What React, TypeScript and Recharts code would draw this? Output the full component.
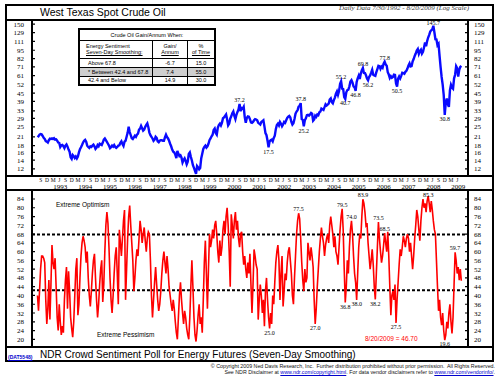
import { LineChart, Line, XAxis, YAxis, ReferenceLine, ReferenceDot } from 'recharts';

// semi-monthly readings, first one at 7/30/1992
const START = 1992.58;
const PER_YEAR = 24;

// West Texas spot crude, $ (Aug 1992 .. Aug 2009, two readings a month)
const oilPrices = [
  21.5, 21.2, 21.8, 22.0, 21.9, 21.3, 20.6, 20.2, 19.5, 19.3,
  19.0, 19.8, 20.3, 20.2, 20.4, 20.2, 20.5, 20.0, 20.1, 19.6, 19.0, 18.9, 17.6, 18.1, 18.2, 17.8, 17.2, 18.0, 18.4, 17.7, 16.8, 16.2, 14.7, 14.3,
  15.3, 15.0, 14.5, 14.9, 14.4, 14.9, 16.0, 16.9, 17.5, 18.2, 19.0, 19.6, 19.9, 19.3, 18.0, 17.6, 17.3, 17.8, 17.6, 18.0, 18.3, 17.8, 17.0, 17.4,
  18.2, 17.8, 18.6, 18.4, 18.2, 19.0, 20.0, 20.4, 19.8, 19.2, 18.6, 18.0, 17.2, 17.5, 18.0, 17.7, 18.2, 17.6, 17.3, 17.6, 18.0, 18.1, 18.9, 19.4,
  18.5, 17.9, 19.3, 19.6, 21.0, 22.5, 25.0, 22.8, 21.6, 20.5, 20.2, 20.8, 21.4, 21.0, 21.8, 22.2, 23.8, 24.2, 25.4, 24.4, 23.4, 23.8, 25.0, 25.8,
  26.5, 24.8, 22.6, 21.6, 21.0, 20.4, 19.6, 20.0, 21.0, 20.6, 19.4, 19.1, 19.6, 19.8, 19.8, 19.6, 19.6, 20.8, 21.8, 20.9, 20.4, 19.6, 18.6, 17.8,
  16.8, 16.2, 16.0, 15.4, 14.5, 16.4, 15.6, 15.0, 15.2, 14.6, 13.4, 14.0, 14.4, 13.8, 13.0, 13.6, 15.6, 16.0, 14.8, 13.9, 12.8, 12.2, 11.6, 11.0,
  12.6, 12.3, 11.9, 12.2, 14.4, 15.6, 17.0, 17.6, 18.0, 17.4, 17.8, 18.6, 19.8, 20.4, 21.2, 21.8, 23.6, 24.2, 22.4, 21.8, 24.6, 25.8, 26.4, 25.6,
  26.8, 29.0, 29.4, 30.2, 31.0, 28.4, 25.6, 26.4, 28.8, 30.0, 31.6, 32.6, 30.2, 28.6, 30.8, 32.4, 33.8, 37.2, 32.8, 34.6, 34.2, 35.4, 29.6, 26.8,
  29.2, 30.0, 29.8, 28.6, 27.0, 26.8, 27.2, 28.0, 28.6, 28.4, 28.0, 26.8, 26.4, 26.0, 27.2, 27.6, 28.0, 25.2, 22.4, 21.6, 19.6, 17.5, 19.4, 19.8,
  20.0, 19.4, 20.6, 21.4, 24.0, 25.8, 26.4, 25.6, 27.2, 26.4, 25.2, 26.0, 27.2, 26.8, 28.0, 29.2, 29.8, 30.2, 29.4, 27.2, 26.0, 26.6, 28.6, 31.4,
  32.6, 33.4, 35.6, 36.2, 37.8, 28.6, 28.2, 25.2, 28.0, 29.0, 30.6, 30.8, 30.4, 31.0, 31.8, 31.4, 27.8, 28.4, 30.4, 29.8, 31.0, 30.6, 32.2, 32.6,
  34.4, 34.0, 33.6, 35.2, 37.0, 36.2, 36.8, 37.4, 40.2, 41.0, 38.4, 37.6, 39.8, 41.6, 44.6, 46.4, 43.6, 46.6, 52.8, 55.2, 48.6, 48.2, 42.0, 40.7,
  45.6, 47.4, 47.8, 50.6, 55.0, 56.4, 54.0, 50.6, 49.6, 46.8, 54.6, 58.2, 61.0, 57.6, 63.2, 67.2, 69.8, 64.0, 63.8, 61.4, 58.0, 56.2, 59.6, 61.2,
  64.2, 67.6, 62.0, 61.2, 60.8, 64.8, 68.4, 72.4, 72.0, 68.6, 71.4, 70.0, 75.2, 77.8, 74.2, 72.6, 64.8, 62.2, 58.6, 60.4, 58.8, 59.6, 62.0, 61.8,
  53.2, 50.5, 58.0, 60.2, 58.2, 60.8, 64.2, 63.8, 63.0, 65.2, 66.4, 69.0, 73.0, 75.6, 71.6, 72.0, 78.2, 81.4, 86.0, 89.6, 94.6, 97.2, 89.4, 93.8,
  96.0, 89.6, 92.4, 99.8, 108.6, 102.0, 111.4, 118.6, 124.2, 131.6, 134.6, 137.0, 145.7, 130.0, 115.2, 114.6, 103.8, 106.4, 86.2, 70.8, 59.6, 52.2, 43.6, 30.8,
  38.2, 41.0, 37.0, 35.4, 47.2, 52.0, 49.6, 48.6, 58.2, 62.0, 72.0, 69.6, 60.0, 67.4, 71.0, 72.4,
];

// NDR crowd sentiment poll, energy futures (7-day smoothing), same dates
const sentiment = [
  40, 33, 42, 52, 58, 58, 57, 55, 38, 27, 34, 47, 29, 45, 63, 55, 52, 57, 44, 30, 24, 36, 28, 22,
  26, 23, 38, 47, 53, 34, 51, 42, 30, 25, 21, 28, 40, 52, 57, 31, 36, 48, 58, 64, 67, 65, 62, 55,
  60, 48, 40, 35, 42, 50, 56, 59, 48, 38, 30, 36, 45, 52, 56, 37, 45, 60, 72, 78, 73, 62, 48, 38,
  32, 40, 50, 58, 62, 50, 36, 70, 64, 58, 66, 74, 79, 38, 52, 66, 76, 81, 72, 64, 56, 42, 48, 56,
  61, 58, 66, 74, 70, 64, 68, 71, 65, 60, 66, 69, 68, 56, 40, 30, 38, 46, 53, 45, 38, 33, 36, 42,
  50, 56, 60, 55, 50, 58, 52, 44, 40, 36, 33, 38, 34, 28, 23, 20, 30, 40, 46, 38, 32, 27, 33, 30,
  25, 22, 20, 30, 44, 56, 44, 30, 22, 19, 24, 31, 36, 27, 30, 23, 38, 55, 65, 50, 34, 52, 68, 62,
  65, 70, 66, 72, 74, 68, 60, 55, 65, 58, 62, 70, 74, 68, 76, 80, 72, 60, 44, 77, 72, 66, 74, 78,
  70, 74, 66, 62, 68, 69, 60, 54, 58, 52, 48, 55, 50, 59, 45, 32, 45, 61, 58, 54, 52, 29, 38, 45,
  40, 32, 38, 26, 42, 48, 38, 30, 25, 32, 27, 40, 36, 46, 55, 60, 63, 56, 38, 50, 58, 35, 42, 50,
  47, 55, 60, 62, 56, 50, 40, 36, 48, 58, 68, 74, 77.5, 75, 66, 55, 47, 42, 52, 46, 48, 64, 60, 56,
  62, 58, 53, 38, 27, 34, 44, 52, 60, 66, 71, 67, 64, 58, 63, 66, 68, 64, 72, 76, 72, 68, 62, 67,
  60, 58, 54, 62, 70, 76, 79.5, 70, 52, 36.8, 44, 56, 50, 62, 70, 74, 68, 58, 50, 46, 38, 50, 62, 68,
  66, 76, 83.9, 82, 78, 72, 73, 64, 58, 52, 56, 61, 54, 44, 38.2, 50, 62, 73.5, 66, 60, 55, 58, 63, 68.5,
  64, 60, 69, 58, 44, 31, 40, 42, 38, 45, 27.5, 38, 46, 54, 61, 58, 62, 67, 65, 62, 66, 68, 66, 60,
  64, 58, 52, 58, 66, 72, 79, 76, 70, 65, 74, 80, 84, 80, 82, 78, 83, 85.3, 82, 78, 83, 79, 74, 70,
  68, 56, 44, 33, 38, 30, 26.5, 32, 24, 19.6, 22, 28, 25, 32, 36, 28, 22.7, 30, 45, 59.7, 56, 50, 53, 47, 52, 46.7,
];

const oilTicks = [12, 14, 16, 18, 21, 25, 29, 33, 39, 45, 52, 61, 71, 82, 95, 111, 129, 150];
const sentimentTicks = [20, 24, 28, 32, 36, 40, 44, 48, 52, 56, 60, 64, 68, 72, 76, 80, 84];
const yearLabels = [1993, 1994, 1995, 1996, 1997, 1998, 1999, 2000, 2001, 2002, 2003, 2004, 2005, 2006, 2007, 2008, 2009];
const quarterMonths = [3, 6, 9, 12];
const quarterLetters = ['M', 'J', 'S', 'D'];

const upperBand = 67.8;
const lowerBand = 42.4;

// indexes of labelled highs and lows
const oilHighs = [195, 254, 293, 314, 335, 382];
const oilLows = [223, 257, 297, 307, 319, 347, 393];
const sentHighs = [252, 294, 303, 314, 329, 335, 377, 403];
const sentLows = [224, 268, 297, 308, 326, 346, 393];

const tableRows = [
  { label: 'Above 67.8', gain: '-6.7', time: '15.0', shade: false },
  { label: '* Between 42.4 and 67.8', gain: '7.4', time: '55.0', shade: true },
  { label: '42.4 and Below', gain: '14.9', time: '30.0', shade: false },
];

const tOf = (i: number) => START + i / PER_YEAR;
const oilData = oilPrices.map((v, i) => ({ t: tOf(i), v }));
const sentData = sentiment.map((v, i) => ({ t: tOf(i), v }));

const xDomain = [1992.36, 2009.89];
const END = tOf(oilPrices.length - 1);

const timeTicks: { t: number; label: string; year: boolean }[] = [];
for (let y = 1992; y <= 2009; y++) {
  quarterMonths.forEach((m, k) => {
    const t = y + (m - 0.5) / 12;
    if (t >= START && t <= END) timeTicks.push({ t, label: quarterLetters[k], year: false });
  });
}
yearLabels.forEach((y) => timeTicks.push({ t: y + 0.5, label: String(y), year: true }));

const serif = '"Liberation Serif", "Times New Roman", serif';
const sans = '"Liberation Sans", Arial, sans-serif';

function LeftTick({ x, y, payload }: any) {
  return (
    <g>
      <line x1={x + 1} x2={x + 3} y1={y} y2={y} stroke="#000" strokeWidth={1.2} />
      <text x={x - 8} y={y + 2.5} textAnchor="end" fontSize={7} fontFamily={serif} fill="#000">
        {payload.value}
      </text>
    </g>
  );
}

function RightTick({ x, y, payload }: any) {
  return (
    <g>
      <line x1={x - 3} x2={x - 1} y1={y} y2={y} stroke="#000" strokeWidth={1.2} />
      <text x={x + 6} y={y + 2.5} textAnchor="start" fontSize={7} fontFamily={serif} fill="#000">
        {payload.value}
      </text>
    </g>
  );
}

function TimeTick({ x, y, payload }: any) {
  const tk = timeTicks.find((k) => Math.abs(k.t - payload.value) < 1e-6);
  if (!tk) return null;
  if (tk.year) {
    return (
      <text x={x} y={y + 13} textAnchor="middle" fontSize={7} fontFamily={serif} fill="#000">
        {tk.label}
      </text>
    );
  }
  return (
    <text x={x} y={y + 6} textAnchor="middle" fontSize={5.5} fontFamily={serif} fill="#000">
      {tk.label}
    </text>
  );
}

const noteLabel = (value: number, position: 'top' | 'bottom', offset = 1) => ({
  value: value.toFixed(1),
  position,
  offset,
  fontSize: 6,
  fill: '#000',
  fontFamily: serif,
});

const hline = (top: number) => (
  <div style={{ position: 'absolute', left: 5, top, width: 489, height: 2, background: '#000' }} />
);

const cell = { border: '1px solid #000', padding: 0, textAlign: 'center' as const };

export default function App() {
  return (
    <div style={{ position: 'absolute', left: 0, top: 0, width: 500, height: 382, background: '#fff', fontFamily: sans, overflow: 'hidden' }}>
      {/* upper panel: crude oil, log scale */}
      <div style={{ position: 'absolute', left: 0, top: 0 }}>
        <LineChart width={500} height={190} data={oilData} margin={{ top: 20, right: 0, bottom: 0, left: 0 }}>
          <XAxis
            xAxisId="x"
            dataKey="t"
            type="number"
            domain={xDomain}
            allowDataOverflow
            ticks={timeTicks.map((k) => k.t)}
            interval={0}
            height={14}
            axisLine={false}
            tickLine={false}
            tickSize={0}
            tickMargin={0}
            tick={<TimeTick />}
          />
          <YAxis
            yAxisId="l"
            type="number"
            scale="log"
            domain={[10.6, 161]}
            allowDataOverflow
            ticks={oilTicks}
            interval={0}
            width={32}
            axisLine={{ stroke: '#000', strokeWidth: 2 }}
            tickLine={false}
            tickSize={0}
            tickMargin={0}
            tick={<LeftTick />}
          />
          <YAxis
            yAxisId="r"
            orientation="right"
            type="number"
            scale="log"
            domain={[10.6, 161]}
            allowDataOverflow
            ticks={oilTicks}
            interval={0}
            width={32}
            axisLine={{ stroke: '#000', strokeWidth: 2 }}
            tickLine={false}
            tickSize={0}
            tickMargin={0}
            tick={<RightTick />}
          />
          <Line xAxisId="x" yAxisId="r" dataKey="v" stroke="transparent" dot={false} activeDot={false} isAnimationActive={false} />
          <Line xAxisId="x" yAxisId="l" dataKey="v" stroke="#0a0aff" strokeWidth={2.4} dot={false} isAnimationActive={false} />
          {oilHighs.map((i) => (
            <ReferenceDot key={'h' + i} xAxisId="x" yAxisId="l" x={oilData[i].t} y={oilPrices[i]} r={1} fill="none" stroke="none" label={noteLabel(oilPrices[i], 'top', oilPrices[i] > 140 ? 0 : 1)} />
          ))}
          {oilLows.map((i) => (
            <ReferenceDot key={'l' + i} xAxisId="x" yAxisId="l" x={oilData[i].t} y={oilPrices[i]} r={1} fill="none" stroke="none" label={noteLabel(oilPrices[i], 'bottom')} />
          ))}
        </LineChart>
      </div>

      {/* lower panel: sentiment */}
      <div style={{ position: 'absolute', left: 0, top: 190 }}>
        <LineChart width={500} height={157} data={sentData} margin={{ top: 0, right: 0, bottom: 0, left: 0 }}>
          <XAxis xAxisId="x" dataKey="t" type="number" domain={xDomain} allowDataOverflow hide />
          <YAxis
            yAxisId="l"
            type="number"
            domain={[16.5, 88.1]}
            allowDataOverflow
            ticks={sentimentTicks}
            interval={0}
            width={32}
            axisLine={{ stroke: '#000', strokeWidth: 2 }}
            tickLine={false}
            tickSize={0}
            tickMargin={0}
            tick={<LeftTick />}
          />
          <YAxis
            yAxisId="r"
            orientation="right"
            type="number"
            domain={[16.5, 88.1]}
            allowDataOverflow
            ticks={sentimentTicks}
            interval={0}
            width={32}
            axisLine={{ stroke: '#000', strokeWidth: 2 }}
            tickLine={false}
            tickSize={0}
            tickMargin={0}
            tick={<RightTick />}
          />
          <ReferenceLine xAxisId="x" yAxisId="l" y={upperBand} stroke="#000" strokeWidth={2} strokeDasharray="3 2" />
          <ReferenceLine xAxisId="x" yAxisId="l" y={lowerBand} stroke="#000" strokeWidth={2} strokeDasharray="3 2" />
          <Line xAxisId="x" yAxisId="r" dataKey="v" stroke="transparent" dot={false} activeDot={false} isAnimationActive={false} />
          <Line xAxisId="x" yAxisId="l" dataKey="v" stroke="#ff0000" strokeWidth={1.6} dot={false} isAnimationActive={false} />
          {sentHighs.map((i) => (
            <ReferenceDot key={'h' + i} xAxisId="x" yAxisId="l" x={sentData[i].t} y={sentiment[i]} r={1} fill="none" stroke="none" label={noteLabel(sentiment[i], 'top', sentiment[i] > 85 ? -2 : 1)} />
          ))}
          {sentLows.map((i) => (
            <ReferenceDot key={'l' + i} xAxisId="x" yAxisId="l" x={sentData[i].t} y={sentiment[i]} r={1} fill="none" stroke="none" label={noteLabel(sentiment[i], 'bottom')} />
          ))}
        </LineChart>
      </div>

      {/* frame */}
      <div style={{ position: 'absolute', left: 5, top: 4, width: 489, height: 358, border: '2px solid #000', boxSizing: 'border-box' }} />
      {hline(19)}
      {hline(175)}
      {hline(189)}
      {hline(346)}

      <div style={{ position: 'absolute', left: 40, top: 6, fontSize: 10.5, lineHeight: '13px', color: '#000' }}>West Texas Spot Crude Oil</div>
      <div style={{ position: 'absolute', right: 31, top: 4, fontSize: 7, lineHeight: '8px', fontStyle: 'italic', fontFamily: serif, color: '#333' }}>
        Daily Data 7/30/1992 - 8/20/2009 (Log Scale)
      </div>

      {/* gain table */}
      <table
        style={{
          position: 'absolute', left: 78, top: 28, width: 138, height: 58, borderCollapse: 'collapse',
          border: '2px solid #000', fontSize: 5.5, lineHeight: '6px', background: '#fff', fontFamily: sans,
        }}
      >
        <tbody>
          <tr style={{ height: 11 }}>
            <td colSpan={3} style={cell}>Crude Oil Gain/Annum When:</td>
          </tr>
          <tr style={{ height: 18 }}>
            <td style={{ ...cell, width: 66, textAlign: 'left', paddingLeft: 6 }}>
              Energy Sentiment<br /><span style={{ textDecoration: 'underline' }}>Seven-Day Smoothing:</span>
            </td>
            <td style={{ ...cell, width: 34 }}>Gain/<br /><span style={{ textDecoration: 'underline' }}>Annum</span></td>
            <td style={cell}>%<br /><span style={{ textDecoration: 'underline' }}>of Time</span></td>
          </tr>
          {tableRows.map((r) => (
            <tr key={r.label} style={{ height: 9, background: r.shade ? '#cfcfcf' : '#fff' }}>
              <td style={{ ...cell, textAlign: 'left', paddingLeft: 8 }}>{r.label}</td>
              <td style={cell}>{r.gain}</td>
              <td style={cell}>{r.time}</td>
            </tr>
          ))}
        </tbody>
      </table>

      <div style={{ position: 'absolute', left: 56, top: 201, fontSize: 6.5, lineHeight: '7px' }}>Extreme Optimism</div>
      <div style={{ position: 'absolute', left: 97, top: 331, fontSize: 6.5, lineHeight: '7px' }}>Extreme Pessimism</div>
      <div style={{ position: 'absolute', left: 365, top: 335, fontSize: 6.5, lineHeight: '7px', color: '#ff0000' }}>8/20/2009 = 46.70</div>

      <div style={{ position: 'absolute', left: 8, top: 354, fontSize: 5, lineHeight: '6px', color: '#0000cc', fontWeight: 'bold', textDecoration: 'underline' }}>(DAT5548)</div>
      <div style={{ position: 'absolute', left: 40, top: 349, fontSize: 10, lineHeight: '12px' }}>
        NDR Crowd Sentiment Poll for Energy Futures (Seven-Day Smoothing)
      </div>

      <div style={{ position: 'absolute', right: 5, top: 363, fontSize: 5.3, lineHeight: '6px', textAlign: 'right', color: '#111', whiteSpace: 'nowrap' }}>
        © Copyright 2009 Ned Davis Research, Inc.&nbsp; Further distribution prohibited without prior permission.&nbsp; All Rights Reserved.
        <br />
        See NDR Disclaimer at <span style={{ color: '#0000cc', textDecoration: 'underline' }}>www.ndr.com/copyright.html</span>. For data vendor disclaimers refer to{' '}
        <span style={{ color: '#0000cc', textDecoration: 'underline' }}>www.ndr.com/vendorinfo/</span>.
      </div>
    </div>
  );
}
